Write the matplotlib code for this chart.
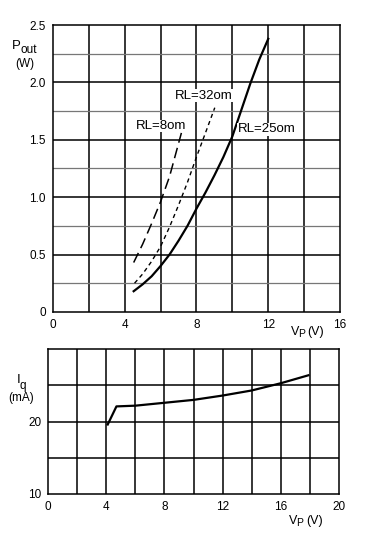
import matplotlib
matplotlib.use("Agg")
import matplotlib.pyplot as plt
import numpy as np

plt.rcParams['font.family'] = ['Liberation Sans', 'DejaVu Sans']

# Top chart data: Pout (W) vs Vp (V)
vp_25 = [4.5, 5.0, 5.5, 6.0, 6.5, 7.0, 7.5, 8.0, 8.5, 9.0, 9.5, 10.0, 10.5, 11.0, 11.5, 12.0]
po_25 = [0.18, 0.24, 0.31, 0.40, 0.50, 0.62, 0.75, 0.90, 1.04, 1.19, 1.35, 1.53, 1.76, 1.99, 2.20, 2.38]
vp_32 = [4.55, 5.0, 5.5, 6.0, 6.5, 7.0, 7.5, 8.0, 8.5, 9.02]
po_32 = [0.25, 0.33, 0.44, 0.57, 0.74, 0.93, 1.13, 1.35, 1.56, 1.78]
vp_8 = [4.5, 5.0, 5.5, 6.0, 6.5, 7.16]
po_8 = [0.43, 0.59, 0.77, 0.96, 1.18, 1.56]
labels_top = ["RL=8om", "RL=32om", "RL=25om"]
label_pos_top = [(4.65, 1.62), (6.8, 1.885), (10.3, 1.59)]

# Bottom chart data: Iq (mA) vs Vp (V)
vp_iq = [4.1, 4.7, 6.0, 8.0, 10.0, 12.0, 14.0, 16.0, 17.9]
iq = [19.6, 22.1, 22.2, 22.6, 23.0, 23.6, 24.3, 25.3, 26.4]

fig = plt.figure(figsize=(3.70, 5.34), dpi=100)

fs = 8.5
fl = 9.5

def px(x, y):
    return x / 370, 1 - y / 534

ax1 = fig.add_axes([0.143, 0.416, 0.776, 0.537])
ax1.set_xlim(0, 16)
ax1.set_ylim(0, 2.5)
for x in np.arange(2, 16, 2):
    ax1.axvline(x, color='black', lw=1.1, zorder=1)
for y in np.arange(0.25, 2.5, 0.25):
    major = abs((y / 0.5) - round(y / 0.5)) < 1e-6
    ax1.axhline(y, color='black' if major else '#777777', lw=1.1 if major else 0.9, zorder=1)
ax1.plot(vp_25, po_25, color='black', lw=1.6, zorder=3)
ax1.plot(vp_32, po_32, color='black', lw=1.0, ls=(0, (3, 2.5)), zorder=3)
ax1.plot(vp_8, po_8, color='black', lw=1.1, ls=(0, (7, 3.5)), zorder=3)
for t, (x, y) in zip(labels_top, label_pos_top):
    ax1.text(x, y, t, fontsize=fl, va='center', ha='left', zorder=4,
             bbox=dict(facecolor='white', edgecolor='none', pad=0.3))
ax1.set_xticks([0, 4, 8, 12, 16])
ax1.set_yticks([0, 0.5, 1.0, 1.5, 2.0, 2.5])
ax1.set_yticklabels(['0', '0.5', '1.0', '1.5', '2.0', '2.5'])
ax1.tick_params(length=0, labelsize=fs, pad=5)
for s in ax1.spines.values():
    s.set_linewidth(1.1)
fig.text(*px(12, 46), 'P', fontsize=fl, ha='left', va='center')
fig.text(*px(20.5, 50), 'out', fontsize=fs, ha='left', va='center')
fig.text(*px(15, 64), '(W)', fontsize=fs, ha='left', va='center')
fig.text(*px(291, 332), 'V', fontsize=9, ha='left', va='center')
fig.text(*px(298.5, 334), 'P', fontsize=7.5, ha='left', va='center')
fig.text(*px(307.5, 332), '(V)', fontsize=9, ha='left', va='center')

ax2 = fig.add_axes([0.130, 0.075, 0.786, 0.271])
ax2.set_xlim(0, 20)
ax2.set_ylim(10, 30)
for x in np.arange(2, 20, 2):
    ax2.axvline(x, color='black', lw=1.1, zorder=1)
for y in [15, 20, 25]:
    ax2.axhline(y, color='black', lw=1.1, zorder=1)
ax2.plot(vp_iq, iq, color='black', lw=1.6, zorder=3)
ax2.set_xticks([0, 4, 8, 12, 16, 20])
ax2.set_yticks([10, 20])
ax2.tick_params(length=0, labelsize=fs, pad=5)
for s in ax2.spines.values():
    s.set_linewidth(1.1)
fig.text(*px(17, 380), 'I', fontsize=fl, ha='left', va='center')
fig.text(*px(20, 386), 'q', fontsize=fs, ha='left', va='center')
fig.text(*px(8, 398), '(mA)', fontsize=fs, ha='left', va='center')
fig.text(*px(289, 521), 'V', fontsize=9, ha='left', va='center')
fig.text(*px(296.5, 523), 'P', fontsize=7.5, ha='left', va='center')
fig.text(*px(306, 521), '(V)', fontsize=9, ha='left', va='center')

fig.savefig('out.png', dpi=100)
